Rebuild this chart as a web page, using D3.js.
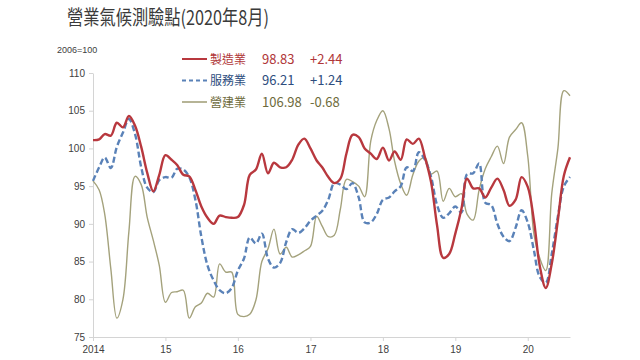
<!DOCTYPE html>
<html>
<head>
<meta charset="utf-8">
<script src="https://cdn.jsdelivr.net/npm/d3@7"></script>
<style>
  body { margin: 0; background: #fff; }
  svg { display: block; font-family: "Noto Sans CJK TC", "Noto Sans", sans-serif; }
  .axis path, .axis line { stroke: #d4d4d4; }
  .axis text { fill: #404040; font-size: 10px; font-family: "Liberation Sans", Arial, sans-serif; }
</style>
</head>
<body>
<div id="chart"></div>
<script>
// monthly values, Jan 2014 .. Aug 2020
var manufacturing = [
  101.1, 101.2, 101.9, 101.7, 103.4, 102.8, 104.3, 103.0, 100.2, 96.8, 94.3, 96.5,
  99.1, 98.5, 97.8, 96.5, 96.3, 94.5, 92.3, 90.8, 90.0, 91.1, 90.9, 90.8,
  90.9, 92.5, 96.5, 97.2, 99.3, 96.7, 98.1, 97.5, 97.5, 98.5, 100.5, 101.3,
  100.0, 98.4, 97.5, 96.2, 95.4, 96.0, 99.3, 101.8, 101.5, 100.0, 99.3, 98.6,
  100.1, 98.4, 99.6, 98.5, 101.2, 100.6, 101.3, 98.8, 95.5, 89.8, 85.5, 86.0,
  88.7, 92.0, 96.0, 94.7, 94.7, 93.5, 94.8, 96.0, 94.5, 92.4, 93.2, 96.2,
  94.9, 90.5, 84.5, 81.5, 84.7, 90.5, 96.39, 98.83
];
var services = [
  95.7, 97.5, 98.8, 97.4, 100.2, 102.1, 103.9, 101.9, 97.5, 94.8, 94.2, 95.8,
  96.2, 96.1, 97.3, 97.2, 96.2, 93.2, 88.3, 84.5, 82.5, 81.2, 80.8, 81.5,
  83.8, 85.4, 88.2, 87.4, 88.7, 85.4, 84.2, 84.8, 87.6, 89.3, 88.8, 89.4,
  90.4, 91.1, 91.7, 93.2, 95.4, 95.2, 94.6, 95.4, 93.5, 90.2, 90.2, 91.3,
  93.2, 93.5, 94.3, 95.0, 97.5, 97.0, 99.5, 98.5, 96.2, 92.5, 90.8, 91.4,
  92.3, 91.5, 96.6, 96.7, 98.0, 92.8, 92.5, 90.0, 88.3, 87.7, 89.5, 91.8,
  90.2, 86.5, 83.0, 82.2, 86.0, 91.0, 94.97, 96.21
];
var construction = [
  95.7, 94.5, 91.3, 84.0, 77.5, 80.0, 89.0, 96.3, 95.2, 90.9, 87.8, 84.5,
  79.6, 80.9, 81.0, 81.2, 77.5, 79.0, 79.5, 80.8, 80.3, 84.7, 83.6, 83.6,
  78.0, 77.7, 78.0, 79.9, 85.0, 86.7, 89.3, 86.0, 86.9, 85.6, 85.9, 86.4,
  87.0, 91.0, 89.7, 88.3, 88.5, 92.0, 95.9, 95.6, 95.0, 93.6, 101.0, 103.7,
  105.0, 102.6, 98.3, 95.3, 93.8, 96.5, 98.3, 98.8, 96.6, 97.0, 93.0, 94.7,
  93.6, 94.0, 91.3, 90.5, 94.5, 97.3, 98.9, 100.3, 98.0, 101.5, 102.5, 103.4,
  99.0, 88.7, 85.5, 83.8, 94.0, 100.0, 107.66, 106.98
];
var seriesNames = ['製造業', '服務業', '營建業'];
var latestValues = ['98.83', '96.21', '106.98'];
var changes = ['+2.44', '+1.24', '-0.68'];
var xLabels = ['2014', '15', '16', '17', '18', '19', '20'];
var yTicks = [75, 80, 85, 90, 95, 100, 105, 110];

var width = 640, height = 360;
var plotLeft = 93, plotRight = 570, plotTop = 73, plotBottom = 337;

var months = d3.timeMonth.range(new Date(2014, 0, 1), new Date(2020, 8, 1));
var years = d3.timeYear.range(new Date(2014, 0, 1), new Date(2021, 0, 1));

var svg = d3.select('#chart')
  .append('svg')
  .attr('width', width)
  .attr('height', height);

var x = d3.scaleTime()
  .domain([months[0], months[months.length - 1]])
  .range([plotLeft, plotRight]);
var y = d3.scaleLinear()
  .domain([75, 110])
  .range([plotBottom, plotTop]);

svg.append('text')
  .attr('x', 67)
  .attr('y', 25)
  .attr('fill', '#3a3a3a')
  .attr('textLength', 202)
  .attr('lengthAdjust', 'spacingAndGlyphs')
  .style('font-size', '20px')
  .text('營業氣候測驗點(2020年8月)');

svg.append('text')
  .attr('x', 57)
  .attr('y', 53)
  .attr('fill', '#404040')
  .style('font-size', '9px')
  .style('font-family', '"Liberation Sans", Arial, sans-serif')
  .text('2006=100');

svg.append('g')
  .attr('class', 'axis')
  .attr('transform', 'translate(' + plotLeft + ',0)')
  .call(d3.axisLeft(y).tickValues(yTicks).tickSize(4).tickSizeOuter(0).tickPadding(4));

svg.append('g')
  .attr('class', 'axis')
  .attr('transform', 'translate(0,' + plotBottom + ')')
  .call(d3.axisBottom(x)
    .tickValues(years.slice(0, xLabels.length))
    .tickFormat(function (d, i) { return xLabels[i]; })
    .tickSize(4).tickSizeOuter(0).tickPadding(5));

var line = d3.line()
  .x(function (d, i) { return x(months[i]); })
  .y(function (d) { return y(d); })
  .curve(d3.curveCatmullRom.alpha(0.5));

var styles = [
  { color: '#b8383e', text: '#b03638', width: 2.4, dash: null },
  { color: '#5a82b8', text: '#2d4d7d', width: 2.4, dash: '6,3' },
  { color: '#a4a27c', text: '#6e6b3c', width: 1.4, dash: null }
];
var allSeries = [construction, services, manufacturing];
var order = [2, 1, 0];

allSeries.forEach(function (s, k) {
  var st = styles[order[k]];
  svg.append('path')
    .datum(s)
    .attr('d', line)
    .attr('fill', 'none')
    .attr('stroke', st.color)
    .attr('stroke-width', st.width)
    .attr('stroke-dasharray', st.dash);
});

// legend
seriesNames.forEach(function (name, i) {
  var st = styles[i];
  var ly = 59 + i * 21.5;
  svg.append('line')
    .attr('x1', 182).attr('x2', 207)
    .attr('y1', ly).attr('y2', ly)
    .attr('stroke', st.color)
    .attr('stroke-width', i == 2 ? 1.6 : 2)
    .attr('stroke-dasharray', i == 1 ? '4,3' : null);
  svg.append('text')
    .attr('x', 210).attr('y', ly + 4.5)
    .attr('fill', st.text)
    .style('font-size', '12px')
    .text(name);
  svg.append('text')
    .attr('x', 262).attr('y', ly + 4.5)
    .attr('fill', st.text)
    .style('font-size', '13px')
    .text(latestValues[i]);
  svg.append('text')
    .attr('x', 310).attr('y', ly + 4.5)
    .attr('fill', st.text)
    .style('font-size', '13px')
    .text(changes[i]);
});
</script>
</body>
</html>
